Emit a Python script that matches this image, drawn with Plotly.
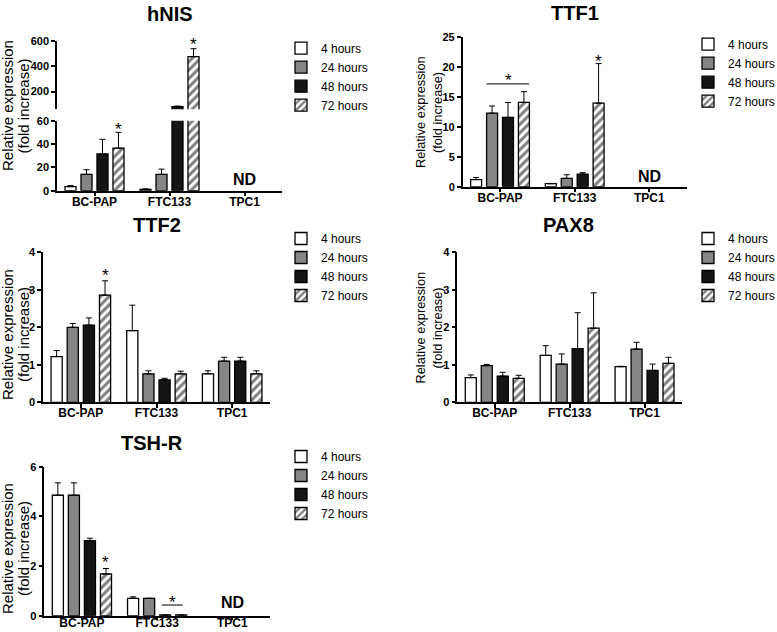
import plotly.graph_objects as go

W, H = 777, 632
FONT = "Arial, Liberation Sans, Helvetica, sans-serif"

categories = ["BC-PAP", "FTC133", "TPC1"]
time_labels = ["4 hours", "24 hours", "48 hours", "72 hours"]

# values per time point (rows: 4h, 24h, 48h, 72h), columns follow categories
hnis_means = [[3.5, 1.2, None], [14.0, 14.0, None], [31.5, 80.0, None], [36.5, 475.0, None]]
hnis_errs = [[1.0, 0.3, None], [4.0, 4.5, None], [12.5, 6.0, None], [13.5, 62.0, None]]

ttf1_means = [[1.2, 0.5, None], [12.3, 1.4, None], [11.6, 2.1, None], [14.1, 14.0, None]]
ttf1_errs = [[0.35, 0.05, None], [1.2, 0.6, None], [2.5, 0.25, None], [1.8, 6.6, None]]

ttf2_means = [[1.22, 1.91, 0.76], [2.0, 0.76, 1.1], [2.06, 0.6, 1.1], [2.86, 0.76, 0.76]]
ttf2_errs = [[0.16, 0.68, 0.08], [0.1, 0.08, 0.1], [0.19, 0.04, 0.1], [0.38, 0.07, 0.08]]

pax8_means = [[0.66, 1.25, 0.95], [0.98, 1.02, 1.42], [0.7, 1.43, 0.85], [0.64, 1.98, 1.04]]
pax8_errs = [[0.07, 0.26, 0.01], [0.03, 0.27, 0.18], [0.1, 0.96, 0.17], [0.08, 0.94, 0.16]]

tshr_means = [[4.85, 0.7, None], [4.85, 0.7, None], [3.02, 0.03, None], [1.68, 0.03, None]]
tshr_errs = [[0.5, 0.06, None], [0.5, 0.0, None], [0.1, 0.0, None], [0.22, 0.0, None]]

fill_colors = ["#ffffff", "#858585", "#151515", "#ffffff"]
patterns = ["", "", "", "/"]


def fx(px):
    return px / W


def fy(py):
    return 1 - py / H


fig = go.Figure()


def add_bars(means, errs, xa, ya, legend, showlegend=True):
    for i, name in enumerate(time_labels):
        fig.add_trace(go.Bar(
            x=categories, y=means[i], name=name,
            xaxis=xa, yaxis=ya, legend=legend, showlegend=showlegend,
            offsetgroup=str(i),
            marker=dict(color=fill_colors[i], line=dict(color="black", width=1.3),
                        pattern=dict(shape=patterns[i], fgcolor="black", bgcolor="white",
                                     size=6, solidity=0.5)),
            error_y=dict(type="data", array=errs[i],
                         arrayminus=[0 if v is not None else None for v in errs[i]],
                         symmetric=False, color="black", thickness=1, width=3),
        ))


add_bars(hnis_means, hnis_errs, "x", "y", "legend")
add_bars(hnis_means, hnis_errs, "x", "y2", "legend", showlegend=False)
add_bars(ttf1_means, ttf1_errs, "x2", "y3", "legend2")
add_bars(ttf2_means, ttf2_errs, "x3", "y4", "legend3")
add_bars(pax8_means, pax8_errs, "x4", "y5", "legend4")
add_bars(tshr_means, tshr_errs, "x5", "y6", "legend5")

line_style = dict(showline=True, linecolor="black", linewidth=1.5, ticks="outside",
                  tickwidth=1.5, tickcolor="black", showgrid=False,
                  zeroline=False, automargin=False)


def xaxis(x0, x1, anchor, standoff=-5, ticklen=4):
    return dict(domain=[fx(x0), fx(x1)], anchor=anchor, type="category",
                categoryorder="array", categoryarray=categories, range=[-0.5, 2.5],
                tickfont=dict(family=FONT, size=12, color="black", weight="bold"),
                ticklabelstandoff=standoff, ticklen=ticklen, fixedrange=True, **line_style)


def yaxis(ytop, ybot, anchor, rng, tickvals):
    return dict(domain=[fy(ybot), fy(ytop)], anchor=anchor, range=rng, tickvals=tickvals,
                tickfont=dict(family=FONT, size=11, color="black", weight="bold"),
                ticklen=4, fixedrange=True, **line_style)


layout = dict(
    width=W, height=H, margin=dict(l=0, r=0, t=0, b=0, autoexpand=False),
    paper_bgcolor="white", plot_bgcolor="white",
    barmode="group", bargap=0.147, bargroupgap=0.31,
    font=dict(family=FONT, color="black"),
    xaxis=xaxis(57, 282, "y"),
    yaxis=yaxis(120.7, 190.7, "x", [0, 60], [0, 20, 40, 60]),
    yaxis2=yaxis(40.7, 109.3, "x", [60, 600], [200, 400, 600]),
    xaxis2=xaxis(462.7, 686.7, "y3"),
    yaxis3=yaxis(37.3, 186.7, "x2", [0, 25], [0, 5, 10, 15, 20, 25]),
    xaxis3=xaxis(43, 270, "y4"),
    yaxis4=yaxis(252.3, 402.3, "x3", [0, 4], [0, 1, 2, 3, 4]),
    xaxis4=xaxis(457.3, 682, "y5"),
    yaxis5=yaxis(252.3, 402.3, "x4", [0, 4], [0, 1, 2, 3, 4]),
    xaxis5=xaxis(44.3, 270, "y6", standoff=-8, ticklen=3),
    yaxis6=yaxis(466.7, 615.7, "x5", [0, 6], [0, 2, 4, 6]),
)

legend_pos = {"legend": (321, 50.7), "legend2": (728, 46.7), "legend3": (321, 241),
              "legend4": (728, 241), "legend5": (321, 459)}
for key, (tx, ty) in legend_pos.items():
    layout[key] = dict(x=fx(tx - 40), y=fy(ty - 17), xanchor="left", yanchor="top",
                       font=dict(family=FONT, size=12, color="black"),
                       bgcolor="rgba(0,0,0,0)", itemwidth=30, tracegroupgap=0)

fig.update_layout(**layout)

annotations = []
# panel titles
for text, cx, cy in [("hNIS", 170, 13.5), ("TTF1", 575, 13), ("TTF2", 157, 225),
                     ("PAX8", 568, 225), ("TSH-R", 152, 443)]:
    annotations.append(dict(text=text, xref="paper", yref="paper", x=fx(cx), y=fy(cy),
                            xanchor="center", yanchor="middle", showarrow=False,
                            font=dict(family=FONT, size=20, color="black", weight="bold")))
# y-axis titles
for cx1, cx2, cy, fs in [(7, 22.5, 106, 15), (420, 437, 112, 12.8), (7, 23, 335, 15),
                         (420, 437, 327.5, 12.8), (7, 23, 549, 15)]:
    for text, cx in [("Relative expression", cx1), ("(fold increase)", cx2)]:
        annotations.append(dict(text=text, xref="paper", yref="paper", x=fx(cx), y=fy(cy),
                                xanchor="center", yanchor="middle", showarrow=False,
                                textangle=-90, font=dict(family=FONT, size=fs, color="black")))
# significance stars
for xr, yr, xv, yv in [("x", "y", 0.32, 56.3), ("x", "y2", 1.32, 600),
                       ("x2", "y3", 0.107, 18.5), ("x2", "y3", 1.32, 21.7),
                       ("x3", "y4", 0.32, 3.48), ("x5", "y6", 0.32, 2.29),
                       ("x5", "y6", 1.21, 0.7)]:
    annotations.append(dict(text="*", xref=xr, yref=yr, x=xv, y=yv, xanchor="center",
                            yanchor="middle", showarrow=False, yshift=-4,
                            font=dict(family=FONT, size=17, color="black")))
# not detected labels
for xr, yr, yv in [("x", "y", 9.2), ("x2", "y3", 1.67), ("x5", "y6", 0.52)]:
    annotations.append(dict(text="ND", xref=xr, yref=yr, x=2, y=yv, xanchor="center",
                            yanchor="middle", showarrow=False,
                            font=dict(family=FONT, size=16, color="black", weight="bold")))
fig.update_layout(annotations=annotations)

fig.update_layout(shapes=[
    dict(type="line", xref="x2", yref="y3", x0=-0.18, x1=0.39, y0=17.2, y1=17.2,
         line=dict(color="black", width=1)),
    dict(type="line", xref="x5", yref="y6", x0=1.06, x1=1.34, y0=0.43, y1=0.43,
         line=dict(color="black", width=1)),
])

fig.write_html("out.html", config={"displayModeBar": False},
               post_script="document.body.style.margin='0px';document.body.style.overflow='hidden';")
